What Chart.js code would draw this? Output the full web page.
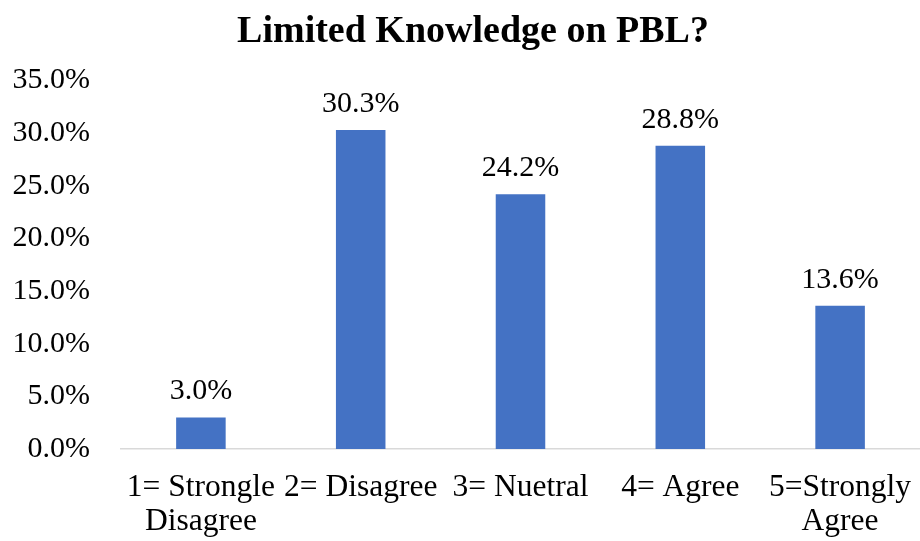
<!DOCTYPE html>
<html>
<head>
<meta charset="utf-8">
<script src="https://cdn.jsdelivr.net/npm/chart.js@4.4.0/dist/chart.umd.min.js"></script>
<style>
  html, body { margin: 0; padding: 0; background: #fff; }
  #wrap { width: 920px; height: 541px; position: relative; }
</style>
</head>
<body>
<div id="wrap"><canvas id="chart"></canvas></div>
<script>
// dados do gráfico
var titulo     = 'Limited Knowledge on PBL?';
var categorias = [['1= Strongle', 'Disagree'], '2= Disagree', '3= Nuetral', '4= Agree', ['5=Strongly', 'Agree']];
var valores    = [3.0, 30.3, 24.2, 28.8, 13.6];
var yTicks     = [0, 5, 10, 15, 20, 25, 30, 35];

var fonte = "'Liberation Serif','Times New Roman',serif";
var azul  = '#4472C4';

// rótulos de dados acima das barras + título (levemente deslocado como no original)
var rotulos = {
  id: 'rotulos',
  afterDatasetsDraw: function(chart) {
    var ctx = chart.ctx;
    var meta = chart.getDatasetMeta(0);
    ctx.save();
    ctx.font = '30px ' + fonte;
    ctx.fillStyle = '#000';
    ctx.textAlign = 'center';
    ctx.textBaseline = 'alphabetic';
    meta.data.forEach(function(bar, i) {
      ctx.fillText(valores[i].toFixed(1) + '%', bar.x, bar.y - 18);
    });
    // título
    var tb = chart.titleBlock;
    ctx.font = 'bold 38px ' + fonte;
    ctx.textBaseline = 'middle';
    ctx.fillText(titulo, 473, tb.top + 9 + 38 * 1.2 / 2);
    ctx.restore();
  }
};

new Chart(document.getElementById('chart'), {
  type: 'bar',
  data: {
    labels: categorias,
    datasets: [{
      data: valores,
      backgroundColor: azul,
      barPercentage: 0.62,
      categoryPercentage: 0.5
    }]
  },
  options: {
    responsive: true, maintainAspectRatio: false,
    animation: false,
    layout: { padding: 0 },
    plugins: {
      legend: { display: false },
      tooltip: { enabled: false },
      title: {
        display: true,
        text: titulo,
        color: 'rgba(0,0,0,0)',
        font: { family: fonte, size: 38, weight: 'bold', lineHeight: 1.2 },
        padding: { top: 9, bottom: 26 }
      }
    },
    scales: {
      x: {
        grid: { display: false, drawTicks: false },
        border: { display: true, color: '#d9d9d9', width: 1.5 },
        ticks: {
          color: '#000', autoSkip: false, maxRotation: 0, minRotation: 0,
          padding: 21,
          font: { family: fonte, size: 31.5, lineHeight: 1.1 }
        },
        afterFit: function(s) { s.height = 92; s.paddingLeft = 0; s.paddingRight = 0; }
      },
      y: {
        min: 0, max: 35,
        grid: { display: false, drawTicks: false },
        border: { display: false },
        afterBuildTicks: function(s) { s.ticks = yTicks.map(function(v){ return { value: v }; }); },
        ticks: {
          color: '#000', padding: 31,
          font: { family: fonte, size: 30 },
          callback: function(v) { return v.toFixed(1) + '%'; }
        },
        afterFit: function(s) { s.width = 121; }
      }
    }
  },
  plugins: [rotulos]
});
</script>
</body>
</html>
